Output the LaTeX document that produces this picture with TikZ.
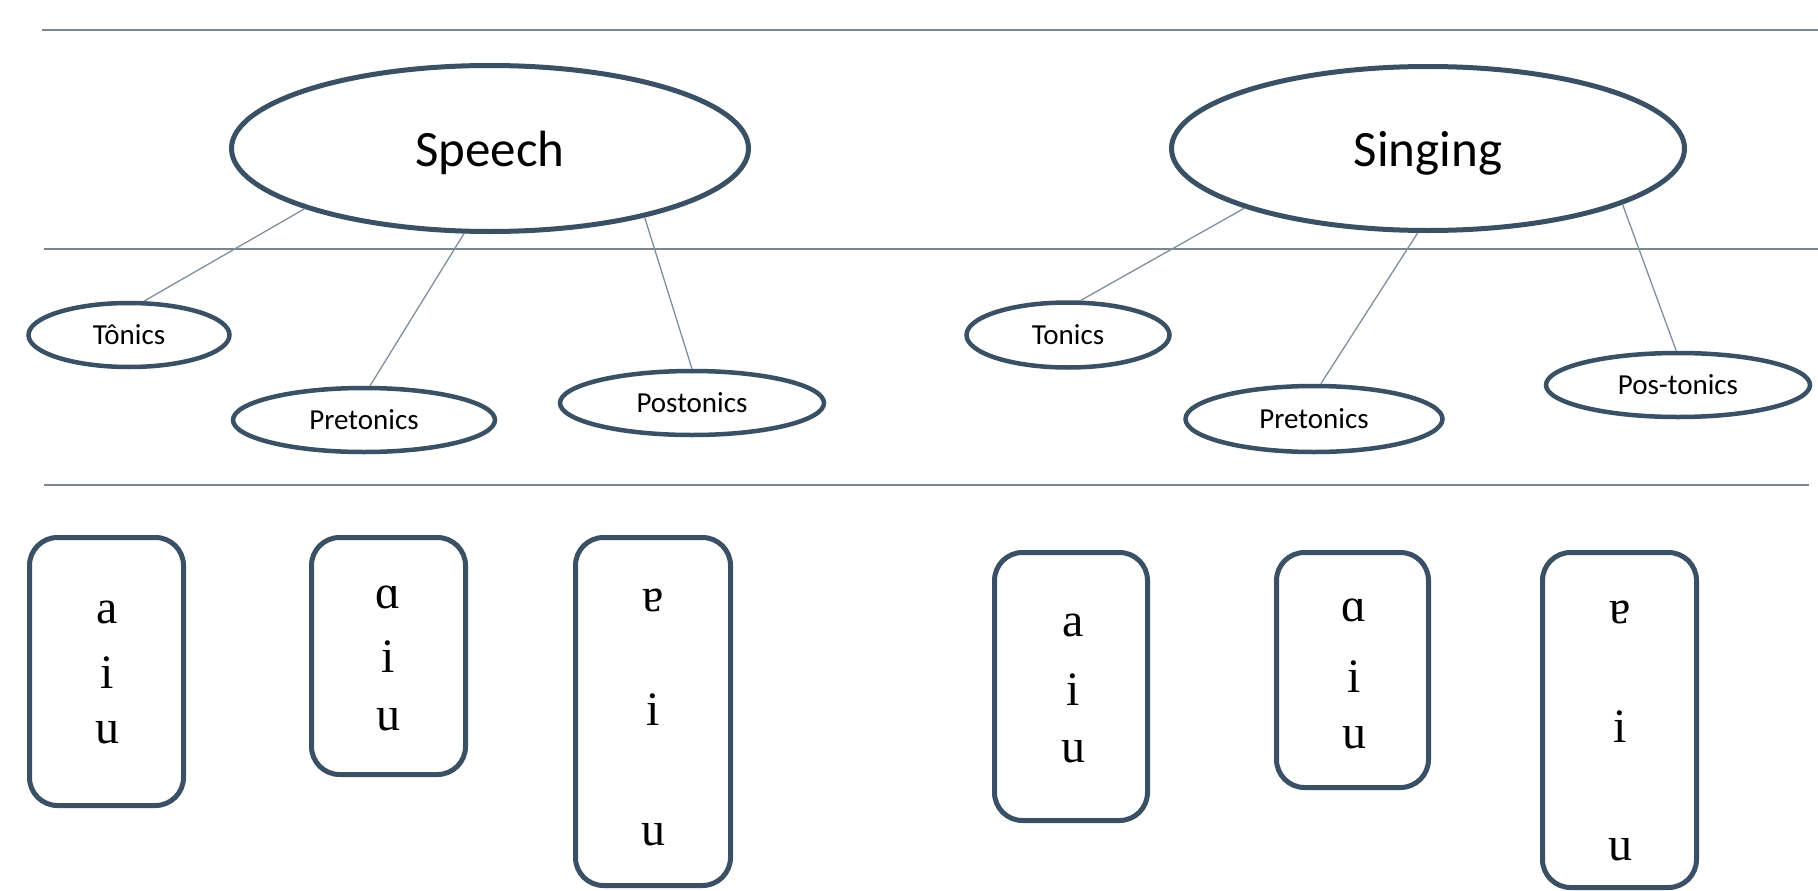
\documentclass[tikz,border=0pt]{standalone}
\usepackage{fontspec}
\setmainfont{Carlito}
\newfontfamily\ipafont{Liberation Serif}
\usetikzlibrary{shapes.geometric}
\definecolor{edgec}{HTML}{3A5064}
\definecolor{rulec}{HTML}{7A878C}
\definecolor{linkc}{HTML}{7F8FA0}
\tikzset{
  rulel/.style={draw=rulec, line width=2.5pt},
  bigell/.style={ellipse, draw=edgec, line width=5pt, inner sep=0pt, fill=white,
     text depth=0pt, font=\fontsize{51}{56}\selectfont},
  smallell/.style={ellipse, draw=edgec, line width=4.5pt, inner sep=0pt, fill=white,
     font=\fontsize{29}{32}\selectfont},
  linkl/.style={draw=linkc, line width=1.3pt},
  vbox/.style={rectangle, draw=edgec, line width=5pt, rounded corners=28pt, inner sep=0pt},
  vowel/.style={inner sep=0pt, font=\ipafont\fontsize{48}{50}\selectfont}
}
\begin{document}
\begin{tikzpicture}[x=1pt,y=-1pt]
\useasboundingbox (0,0) rectangle (1818,891);
\fill[white] (0,0) rectangle (1818,891);

% horizontal rules
\coordinate (r1a) at (42,30);  \coordinate (r1b) at (1818,30);
\coordinate (r2a) at (44,249); \coordinate (r2b) at (1818,249);
\coordinate (r3a) at (44,485); \coordinate (r3b) at (1809,485);
\draw[rulel] (r1a) -- (r1b);
\draw[rulel] (r2a) -- (r2b);
\draw[rulel] (r3a) -- (r3b);

% main ellipses
\node[bigell, minimum width=517pt, minimum height=166pt] (speech) at (490,148.5) {Speech};
\node[bigell, minimum width=513pt, minimum height=164pt] (singing) at (1428,148.5) {Singing};

% sub ellipses
\node[smallell, minimum width=201pt, minimum height=64pt] (tonicsA) at (129,335) {Tônics};
\node[smallell, minimum width=262pt, minimum height=64pt] (pretA) at (364,420) {Pretonics};
\node[smallell, minimum width=264pt, minimum height=64pt] (postA) at (692,403) {Postonics};
\node[smallell, minimum width=203pt, minimum height=65pt] (tonicsB) at (1068,335) {Tonics};
\node[smallell, minimum width=257pt, minimum height=66pt] (pretB) at (1314,419) {Pretonics};
\node[smallell, minimum width=264pt, minimum height=64pt] (postB) at (1678,385) {Pos-tonics};

% connectors
\draw[linkl] (speech.198.6) -- (tonicsA.66);
\draw[linkl] (speech.253.6) -- (pretA.80);
\draw[linkl] (speech.336.8) -- (postA.90);
\draw[linkl] (singing.198.9) -- (tonicsB.70);
\draw[linkl] (singing.263.3) -- (pretB.79);
\draw[linkl] (singing.344.9) -- (postB.93);

% vowel boxes
\node[vbox, minimum width=154pt, minimum height=268pt] (b1) at (106.5,671.5) {};
\node[vbox, minimum width=154pt, minimum height=237pt] (b2) at (388.5,656) {};
\node[vbox, minimum width=155pt, minimum height=348pt] (b3) at (653,711.5) {};
\node[vbox, minimum width=153pt, minimum height=268pt] (b4) at (1071,686.5) {};
\node[vbox, minimum width=152pt, minimum height=235pt] (b5) at (1352.5,670) {};
\node[vbox, minimum width=154pt, minimum height=335pt] (b6) at (1619.5,720) {};

% vowels
\node[vowel] (b1a) at (107,612) {a};
\node[vowel] (b1i) at (107,673) {i};
\node[vowel] (b1u) at (107,733) {u};
\node[vowel] (b2a) at (388,597) {ɑ};
\node[vowel] (b2i) at (388,657) {i};
\node[vowel] (b2u) at (388,720) {u};
\node[vowel] (b3a) at (653,600) {ɐ};
\node[vowel] (b3i) at (653,710) {i};
\node[vowel] (b3u) at (653,835) {u};
\node[vowel] (b4a) at (1073,625) {a};
\node[vowel] (b4i) at (1073,690) {i};
\node[vowel] (b4u) at (1073,752) {u};
\node[vowel] (b5a) at (1354,610) {ɑ};
\node[vowel] (b5i) at (1354,677) {i};
\node[vowel] (b5u) at (1354,738) {u};
\node[vowel] (b6a) at (1620,612) {ɐ};
\node[vowel] (b6i) at (1620,727) {i};
\node[vowel] (b6u) at (1620,850) {u};
\end{tikzpicture}
\end{document}
